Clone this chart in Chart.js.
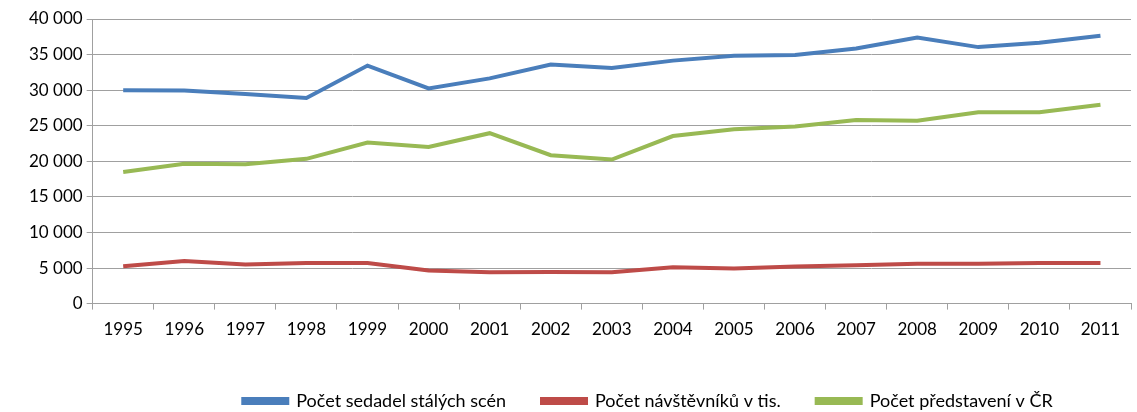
<!DOCTYPE html>
<html>
<head>
<meta charset="utf-8">
<script src="https://cdn.jsdelivr.net/npm/chart.js@4"></script>
<style>
    html, body { margin: 0; padding: 0; background: #ffffff; }
    #wrap { width: 1137px; height: 412px; }
</style>
</head>
<body>
<div id="wrap"><canvas id="theatreChart" width="1137" height="412"></canvas></div>
<script>

/*
 Data
*/

const years = ["1995", "1996", "1997", "1998", "1999", "2000", "2001", "2002", "2003",
    "2004", "2005", "2006", "2007", "2008", "2009", "2010", "2011"];

const seats = [30000, 29950, 29450, 28900, 33450, 30250, 31650, 33600, 33100,
    34150, 34850, 34950, 35850, 37400, 36050, 36650, 37650];

const visitors = [5250, 6000, 5500, 5700, 5700, 4650, 4400, 4450, 4400,
    5100, 4950, 5200, 5400, 5600, 5600, 5700, 5700];

const performances = [18500, 19650, 19600, 20350, 22650, 22000, 23950, 20850, 20250,
    23550, 24500, 24900, 25800, 25700, 26900, 26900, 27950];

const seriesNames = ["Počet sedadel stálých scén", "Počet návštěvníků v tis.", "Počet představení v ČR"];

const FONT = "Lato, 'Open Sans', sans-serif";

/*
 Helpers
*/

function spaced(value) {
    return String(value).replace(/\B(?=(\d{3})+(?!\d))/g, " ");
}

function line(label, data, color) {
    return {
        label,
        data,
        borderColor: color,
        backgroundColor: color,
        borderWidth: 4,
        pointRadius: 0,
        tension: 0,
        fill: false
    };
}

// legend in the original sits a little right of centre and low down
const legendShift = {
    id: "legendShift",
    afterLayout(chart) {
        chart.legend.left += 70;
        chart.legend.right += 70;
        chart.legend.top += 12;
        chart.legend.bottom += 12;
    }
};

/*
 Chart
*/

new Chart(document.getElementById("theatreChart"), {
    type: "line",
    data: {
        labels: years,
        datasets: [
            line(seriesNames[0], seats, "#4a7ebb"),
            line(seriesNames[1], visitors, "#be4b48"),
            line(seriesNames[2], performances, "#98b954")
        ]
    },
    options: {
        responsive: false,
        animation: false,
        layout: { padding: { left: 25, right: 6, top: 19, bottom: 4 } },
        plugins: {
            legend: {
                position: "bottom",
                labels: {
                    boxWidth: 44,
                    boxHeight: 4,
                    padding: 36,
                    color: "#000000",
                    font: { family: FONT, size: 18 }
                }
            },
            tooltip: { enabled: false }
        },
        scales: {
            x: {
                offset: true,
                border: { color: "#a0a0a0", width: 1 },
                grid: {
                    offset: true,
                    drawOnChartArea: false,
                    drawTicks: true,
                    tickLength: 6,
                    color: "#a0a0a0"
                },
                ticks: {
                    color: "#000000",
                    padding: 10,
                    maxRotation: 0,
                    autoSkip: false,
                    font: { family: FONT, size: 17 }
                },
                afterFit(scale) {
                    scale.height -= 6;
                }
            },
            y: {
                min: 0,
                max: 40000,
                border: { color: "#a0a0a0", width: 1 },
                grid: {
                    color: "#a0a0a0",
                    lineWidth: 1,
                    drawTicks: true,
                    tickLength: 6
                },
                ticks: {
                    stepSize: 5000,
                    color: "#000000",
                    padding: 4,
                    font: { family: FONT, size: 17 },
                    callback: value => spaced(value)
                }
            }
        }
    },
    plugins: [legendShift]
});

</script>
</body>
</html>
